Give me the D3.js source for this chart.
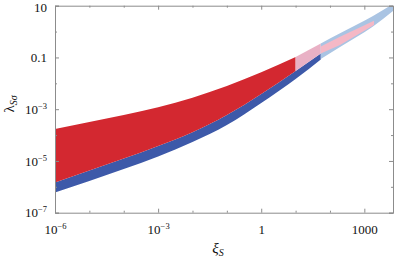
<!DOCTYPE html>
<html><head><meta charset="utf-8">
<script src="https://cdn.jsdelivr.net/npm/d3@7"></script>
<style>
html,body{margin:0;padding:0;background:#fff;}
svg{display:block;}
</style></head>
<body><svg id="c" width="398" height="261"></svg>
<script>
// ---- data ----
const xiMain   = [1e-6, 1e-5, 1e-4, 1e-3, 1e-2, 1e-1, 1, 10, 54];
const redUpper = [1.7e-4, 3.2e-4, 6.0e-4, 1.2e-3, 2.8e-3, 7.9e-3, 2.7e-2, 0.104];
const redLower = [1.47e-6, 4.3e-6, 1.24e-5, 3.8e-5, 1.3e-4, 6.0e-4, 3.9e-3, 0.030, 0.142];
const blueLower= [6.1e-7, 1.68e-6, 4.9e-6, 1.49e-5, 5.4e-5, 2.45e-4, 1.74e-3, 0.0147, 0.083];

const xiPinkA  = [10, 54];
const pinkALo  = [0.030, 0.142];
const pinkAHi  = [0.104, 0.346];

const xiLight  = [54, 196, 1786, 6820];
const lightLo  = [0.087, 0.254, 1.57, 6.2];
const lightHi  = [0.346, 0.86, 4.0, 11.6];

const xiPinkB  = [54, 196, 1910];
const pinkBLo  = [0.142, 0.30, 1.8];
const pinkBHi  = [0.265, 0.63, 2.63];

const xMajor = [1e-6, 1e-3, 1, 1000];
const xMajorLabels = [["10","−6"],["10","−3"],["1",""],["1000",""]];
const xMinor = [1e-5, 1e-4, 1e-2, 1e-1, 10, 100];
const yMajor = [1e-7, 1e-5, 1e-3, 0.1, 10];
const yMajorLabels = [["10","−7"],["10","−5"],["10","−3"],["0.1",""],["10",""]];
const yMinor = [1e-6, 1e-4, 1e-2, 1];

// ---- layout ----
const FONT = "'Liberation Serif','DejaVu Serif',serif";
const L = 55, R = 393, T = 5.7, B = 212.7;
const svg = d3.select("#c");
const x = d3.scaleLog().domain([1e-6, 6820]).range([L, R]);
const y = d3.scaleLog().domain([1e-7, 10]).range([B, T]);

svg.append("clipPath").attr("id","clip").append("rect")
  .attr("x",L).attr("y",T).attr("width",R-L).attr("height",B-T);
const g = svg.append("g").attr("clip-path","url(#clip)");

function band(xs, lo, hi, color, curve){
  const d = xs.map((v,i)=>({xi:v, lo:lo[i], hi:hi[i]}));
  const area = d3.area().x(p=>x(p.xi)).y0(p=>y(p.lo)).y1(p=>y(p.hi)).curve(curve||d3.curveMonotoneX);
  g.append("path").attr("d", area(d)).attr("fill", color);
}
band(xiMain, blueLower, redLower, "#3d59a9");
band(xiMain.slice(0,8), redLower.slice(0,8), redUpper, "#d32830");
band(xiPinkA, pinkALo, pinkAHi, "#e9b1c5", d3.curveLinear);
band(xiLight, lightLo, lightHi, "#aac4e3", d3.curveMonotoneX);
band(xiPinkB, pinkBLo, pinkBHi, "#f5b8c6", d3.curveLinear);

// ---- axes ----
const axisColor = "#8c8c8c";
function styleAxis(sel){
  sel.attr("font-family", FONT);
  sel.select(".domain").attr("stroke", axisColor).attr("stroke-width",1);
  sel.selectAll(".tick line").attr("stroke", axisColor);
}
function addLabels(sel, labels, vals){
  sel.selectAll(".tick text").each(function(d){
    const i = vals.indexOf(d);
    const t = d3.select(this).text(null);
    t.append("tspan").text(labels[i][0]);
    if(labels[i][1]) t.append("tspan").attr("dy","-5").attr("font-size","8.5px").text(labels[i][1]);
  });
}
// bottom
const xb = svg.append("g").attr("transform",`translate(0,${B})`)
  .call(d3.axisBottom(x).tickValues(xMajor).tickSize(-4).tickPadding(12).tickFormat(()=>"x"));
styleAxis(xb);
xb.selectAll(".tick text").attr("font-size","13px").attr("fill","#111");
addLabels(xb, xMajorLabels, xMajor);
const xbm = svg.append("g").attr("transform",`translate(0,${B})`)
  .call(d3.axisBottom(x).tickValues(xMinor).tickSize(-2).tickFormat(""));
styleAxis(xbm); xbm.select(".domain").remove();
// top
const xt = svg.append("g").attr("transform",`translate(0,${T})`)
  .call(d3.axisTop(x).tickValues(xMajor).tickSize(-4).tickFormat(""));
styleAxis(xt);
const xtm = svg.append("g").attr("transform",`translate(0,${T})`)
  .call(d3.axisTop(x).tickValues(xMinor).tickSize(-2).tickFormat(""));
styleAxis(xtm); xtm.select(".domain").remove();
// left
const yl = svg.append("g").attr("transform",`translate(${L},0)`)
  .call(d3.axisLeft(y).tickValues(yMajor).tickSize(-4).tickPadding(8).tickFormat(()=>"x"));
styleAxis(yl);
yl.selectAll(".tick text").attr("font-size","13px").attr("fill","#111");
addLabels(yl, yMajorLabels, yMajor);
yl.selectAll(".tick text").filter(d=>d===10).attr("dy","0.45em");
const ylm = svg.append("g").attr("transform",`translate(${L},0)`)
  .call(d3.axisLeft(y).tickValues(yMinor).tickSize(-2).tickFormat(""));
styleAxis(ylm); ylm.select(".domain").remove();
// right
const yr = svg.append("g").attr("transform",`translate(${R},0)`)
  .call(d3.axisRight(y).tickValues(yMajor).tickSize(-4).tickFormat(""));
styleAxis(yr);
const yrm = svg.append("g").attr("transform",`translate(${R},0)`)
  .call(d3.axisRight(y).tickValues(yMinor).tickSize(-2).tickFormat(""));
styleAxis(yrm); yrm.select(".domain").remove();

// axis titles
const xl = svg.append("text").attr("x",218).attr("y",253).attr("font-family",FONT).attr("font-size","15px").attr("fill","#111").attr("text-anchor","middle");
xl.append("tspan").attr("font-style","italic").text("ξ");
xl.append("tspan").attr("font-style","italic").attr("font-size","10px").attr("dy","3").text("S");
const ylab = svg.append("text").attr("transform","translate(14,104) rotate(-90)").attr("font-family",FONT).attr("font-size","15px").attr("fill","#111").attr("text-anchor","middle");
ylab.append("tspan").text("λ");
ylab.append("tspan").attr("font-style","italic").attr("font-size","10px").attr("dy","3").text("Sσ");
</script></body></html>
